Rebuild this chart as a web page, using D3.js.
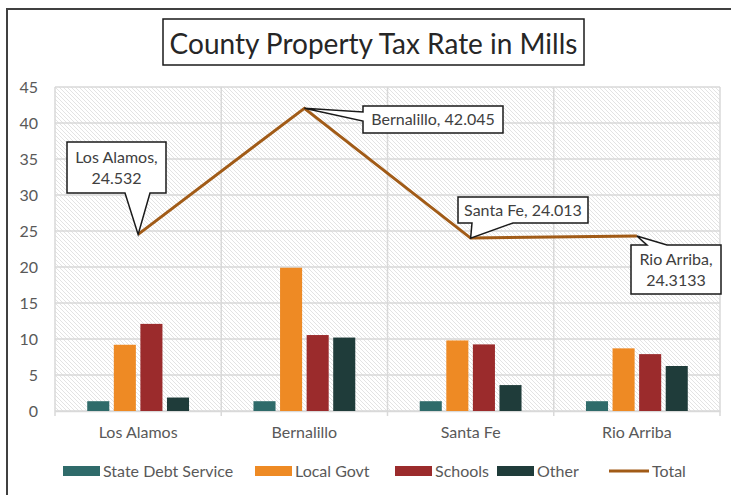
<!DOCTYPE html>
<html>
<meta charset="utf-8">
<script src="https://d3js.org/d3.v7.min.js"></script>
<style>
  body { margin: 0; background: #fff; }
  text { font-family: Lato, "Open Sans", sans-serif; }
</style>
<body>
<div id="chart"></div>
<script>
// data
var counties = ["Los Alamos", "Bernalillo", "Santa Fe", "Rio Arriba"];
var seriesNames = ["State Debt Service", "Local Govt", "Schools", "Other"];
var stateDebt = [1.36, 1.36, 1.36, 1.36];
var localGovt = [9.2, 19.9, 9.8, 8.7];
var schools = [12.1, 10.55, 9.25, 7.9];
var other = [1.87, 10.2, 3.6, 6.25];
var totals = [24.532, 42.045, 24.013, 24.3133];
var totalLabels = ["24.532", "42.045", "24.013", "24.3133"];
var yTicks = [0, 5, 10, 15, 20, 25, 30, 35, 40, 45];
var colors = ["#2f6b6a", "#ee8a24", "#9b2b2c", "#1f3c3a"];
var totalColor = "#a15b17";

var W = 731, H = 495;
var margin = {top: 87, right: 11, bottom: 84, left: 55};
var width = W - margin.left - margin.right,
    height = H - margin.top - margin.bottom;

var svg = d3.select("#chart").append("svg")
  .attr("width", W).attr("height", H);

// hatch pattern for plot background
var defs = svg.append("defs");
var pat = defs.append("pattern")
  .attr("id", "hatch")
  .attr("patternUnits", "userSpaceOnUse")
  .attr("width", 4).attr("height", 4);
pat.append("rect").attr("width", 4).attr("height", 4).attr("fill", "#fff");
pat.append("path")
  .attr("d", "M-1,-1 L5,5 M-1,3 L1,5 M3,-1 L5,1")
  .attr("stroke", "#dcdcdc").attr("stroke-width", 0.8);

// outer frame
svg.append("rect")
  .attr("x", 7).attr("y", 9).attr("width", W + 20).attr("height", H + 20)
  .attr("fill", "none").attr("stroke", "#404040").attr("stroke-width", 2);

var g = svg.append("g")
  .attr("transform", "translate(" + margin.left + "," + margin.top + ")");

var x = d3.scaleBand().domain(counties).range([0, width]).padding(0);
var x1 = d3.scaleBand().domain(seriesNames)
  .range([x.bandwidth() / 6, x.bandwidth() * 5 / 6]).padding(0.17);
var y = d3.scaleLinear().domain([0, 45]).range([height, 0]);

g.append("rect").attr("width", width).attr("height", height).attr("fill", "url(#hatch)");

// gridlines
g.selectAll(".hgrid").data(yTicks).enter().append("line")
  .attr("x1", 0).attr("x2", width)
  .attr("y1", d => y(d)).attr("y2", d => y(d))
  .attr("stroke", "#d9d9d9").attr("stroke-width", 1.5);
var bounds = counties.map(c => x(c)).concat([width]);
g.selectAll(".vgrid").data(bounds).enter().append("line")
  .attr("x1", d => d).attr("x2", d => d)
  .attr("y1", 0).attr("y2", height + 5)
  .attr("stroke", "#d9d9d9").attr("stroke-width", 1.5);

// y axis
var yAxis = g.append("g").call(d3.axisLeft(y).tickValues(yTicks).tickSize(0).tickPadding(17));
yAxis.select(".domain").remove();
yAxis.selectAll("text").attr("fill", "#595959").style("font-size", "16px")
  .style("font-family", "Lato, sans-serif");

// x axis
var xAxis = g.append("g").attr("transform", "translate(0," + height + ")")
  .call(d3.axisBottom(x).tickSize(0).tickPadding(16));
xAxis.select(".domain").attr("stroke", "#d9d9d9").attr("stroke-width", 1.5);
xAxis.selectAll("text").attr("fill", "#595959").style("font-size", "16px")
  .style("font-family", "Lato, sans-serif");

// bars
var series = [stateDebt, localGovt, schools, other];
var rows = [];
counties.forEach(function(c, i) {
  seriesNames.forEach(function(s, j) {
    rows.push({county: c, name: s, value: series[j][i], color: colors[j]});
  });
});
g.selectAll(".bar").data(rows).enter().append("rect")
  .attr("x", d => x(d.county) + x1(d.name))
  .attr("y", d => y(d.value))
  .attr("width", x1.bandwidth())
  .attr("height", d => y(0) - y(d.value))
  .attr("fill", d => d.color);

// total line
var pts = counties.map((c, i) => [x(c) + x.bandwidth() / 2, y(totals[i])]);
g.append("path").datum(pts)
  .attr("d", d3.line())
  .attr("fill", "none").attr("stroke", totalColor).attr("stroke-width", 3);

// callouts: box in page px, wedge side + base, text lines
var callouts = [
  {i: 0, box: [67, 142, 99, 51], side: "bottom", base: [125, 150], lines: ["Los Alamos,", totalLabels[0]]},
  {i: 1, box: [363, 106, 140, 27], side: "left", base: [112, 121], lines: ["Bernalillo, " + totalLabels[1]]},
  {i: 2, box: [458, 197, 130, 26], side: "bottom", base: [472, 513], lines: ["Santa Fe, " + totalLabels[2]]},
  {i: 3, box: [631, 245, 90, 49], side: "top", base: [647, 667], lines: ["Rio Arriba,", totalLabels[3]]}
];

function calloutPath(b, side, base, tip) {
  var x0 = b[0], y0 = b[1], x1 = b[0] + b[2], y1 = b[1] + b[3];
  var p = [[x0, y0]];
  if (side === "top") p.push([base[0], y0], tip, [base[1], y0]);
  p.push([x1, y0], [x1, y1]);
  if (side === "bottom") p.push([base[1], y1], tip, [base[0], y1]);
  p.push([x0, y1]);
  if (side === "left") p.push([x0, base[1]], tip, [x0, base[0]]);
  return "M" + p.map(q => q.join(",")).join("L") + "Z";
}

var cg = svg.append("g");
callouts.forEach(function(c) {
  var tip = [pts[c.i][0] + margin.left, pts[c.i][1] + margin.top];
  cg.append("path")
    .attr("d", calloutPath(c.box, c.side, c.base, tip))
    .attr("fill", "#fff").attr("stroke", "#1a1a1a").attr("stroke-width", 1.5)
    .attr("stroke-linejoin", "miter");
  var cx = c.box[0] + c.box[2] / 2;
  var cy = c.box[1] + c.box[3] / 2;
  var lh = 21;
  c.lines.forEach(function(t, k) {
    cg.append("text")
      .attr("x", cx)
      .attr("y", cy + (k - (c.lines.length - 1) / 2) * lh)
      .attr("dy", "0.35em")
      .attr("text-anchor", "middle")
      .attr("fill", "#404040")
      .style("font-size", "16px")
      .text(t);
  });
});

// title
svg.append("rect")
  .attr("x", 163).attr("y", 19).attr("width", 421).attr("height", 46)
  .attr("fill", "#fff").attr("stroke", "#1a1a1a").attr("stroke-width", 1.5);
svg.append("text")
  .attr("x", 373.5).attr("y", 54)
  .attr("text-anchor", "middle").attr("fill", "#262626")
  .style("font-size", "28px")
  .text("County Property Tax Rate in Mills");

// legend
var legend = [
  {name: "State Debt Service", color: colors[0], x: 63, type: "rect"},
  {name: "Local Govt", color: colors[1], x: 255, type: "rect"},
  {name: "Schools", color: colors[2], x: 395, type: "rect"},
  {name: "Other", color: colors[3], x: 497, type: "rect"},
  {name: "Total", color: totalColor, x: 609, type: "line"}
];
var ly = 471;
var lg = svg.append("g");
legend.forEach(function(d) {
  if (d.type === "rect") {
    lg.append("rect").attr("x", d.x).attr("y", ly - 5).attr("width", 37).attr("height", 10)
      .attr("fill", d.color);
  } else {
    lg.append("line").attr("x1", d.x).attr("x2", d.x + 40).attr("y1", ly).attr("y2", ly)
      .attr("stroke", d.color).attr("stroke-width", 3);
  }
  lg.append("text").attr("x", d.x + (d.type === "rect" ? 40 : 43)).attr("y", ly).attr("dy", "0.35em")
    .attr("fill", "#595959").style("font-size", "16px").text(d.name);
});
</script>
</body>
</html>
